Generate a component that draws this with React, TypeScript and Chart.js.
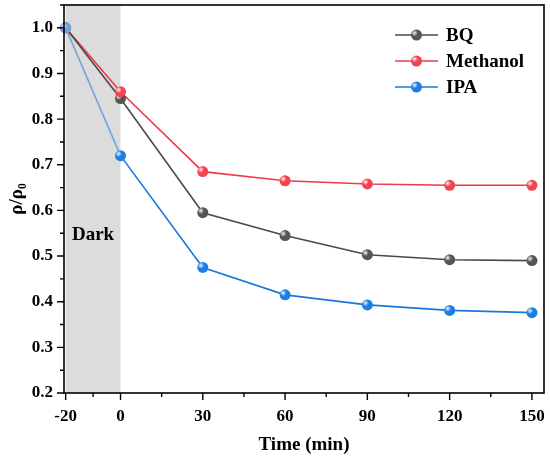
import { useEffect, useRef } from 'react';
import { Chart, registerables, type Plugin } from 'chart.js';

Chart.register(...registerables);

// data
const times = [-20, 0, 30, 60, 90, 120, 150];
const bq = [1.0, 0.845, 0.595, 0.545, 0.503, 0.492, 0.49];
const methanol = [1.0, 0.86, 0.685, 0.665, 0.658, 0.655, 0.655];
const ipa = [1.0, 0.72, 0.475, 0.415, 0.393, 0.381, 0.376];
const seriesNames = ['BQ', 'Methanol', 'IPA'];

const xMajorTicks = [-20, 0, 30, 60, 90, 120, 150];
const xMinorTicks = [-10, 15, 45, 75, 105, 135];
const yMajorTicks = [0.2, 0.3, 0.4, 0.5, 0.6, 0.7, 0.8, 0.9, 1.0];
const yMinorTicks = [0.25, 0.35, 0.45, 0.55, 0.65, 0.75, 0.85, 0.95, 1.05];
const darkRange = [-20, 0];
const darkLabel = 'Dark';

const FONT = '"Liberation Serif", "Times New Roman", serif';
const colors = ['#4a4a4a', '#ef3a47', '#1a78dc'];
const pointColors = ['#555555', '#f24450', '#1c7ee2'];

const toPoints = (vals: number[]) => times.map((t, i) => ({ x: t, y: vals[i] }));

const App = () => {
  const canvasRef = useRef<HTMLCanvasElement | null>(null);
  const chartRef = useRef<Chart<'line'> | null>(null);

  useEffect(() => {
    document.body.style.margin = '0';
    if (!canvasRef.current) return;

    // gray "Dark" band behind the lines
    const darkBand: Plugin<'line'> = {
      id: 'darkBand',
      beforeDatasetsDraw: (chart) => {
        const { ctx, chartArea, scales } = chart;
        const x0 = scales.x.getPixelForValue(darkRange[0]);
        const x1 = scales.x.getPixelForValue(darkRange[1]);
        ctx.save();
        ctx.fillStyle = '#dcdcdc';
        ctx.fillRect(x0, chartArea.top, x1 - x0, chartArea.bottom - chartArea.top);
        ctx.fillStyle = '#000';
        ctx.font = `bold 19px ${FONT}`;
        ctx.textAlign = 'center';
        ctx.textBaseline = 'middle';
        ctx.fillText(darkLabel, (x0 + x1) / 2, scales.y.getPixelForValue(0.546));
        ctx.restore();
      },
    };

    const sphere = (ctx: CanvasRenderingContext2D, x: number, y: number, r: number, c: string) => {
      ctx.beginPath();
      ctx.arc(x, y, r, 0, Math.PI * 2);
      ctx.fillStyle = c;
      ctx.fill();
      const g = ctx.createRadialGradient(x - r * 0.35, y - r * 0.35, 0, x - r * 0.35, y - r * 0.35, r * 0.6);
      g.addColorStop(0, 'rgba(255,255,255,0.95)');
      g.addColorStop(1, 'rgba(255,255,255,0)');
      ctx.beginPath();
      ctx.arc(x, y, r, 0, Math.PI * 2);
      ctx.fillStyle = g;
      ctx.fill();
    };

    // frame, tick marks, sphere highlights and legend
    const decorations: Plugin<'line'> = {
      id: 'decorations',
      afterDatasetsDraw: (chart) => {
        const { ctx } = chart;
        chart.data.datasets.forEach((ds, di) => {
          const meta = chart.getDatasetMeta(di);
          meta.data.forEach((pt, i) => {
            const c = Array.isArray(ds.pointBackgroundColor) ? ds.pointBackgroundColor[i] : pointColors[di];
            sphere(ctx, pt.x, pt.y, 5.5, c as string);
          });
        });
      },
      afterDraw: (chart) => {
        const { ctx, chartArea, scales } = chart;
        const { left, right, top, bottom } = chartArea;
        ctx.save();
        ctx.strokeStyle = '#000';
        ctx.lineWidth = 1.6;
        ctx.strokeRect(left, top, right - left, bottom - top);
        ctx.lineWidth = 1.4;
        ctx.beginPath();
        xMajorTicks.forEach((v) => {
          const x = scales.x.getPixelForValue(v);
          ctx.moveTo(x, bottom);
          ctx.lineTo(x, bottom + 7);
        });
        xMinorTicks.forEach((v) => {
          const x = scales.x.getPixelForValue(v);
          ctx.moveTo(x, bottom);
          ctx.lineTo(x, bottom + 4);
        });
        yMajorTicks.forEach((v) => {
          const y = scales.y.getPixelForValue(v);
          ctx.moveTo(left, y);
          ctx.lineTo(left - 7, y);
        });
        yMinorTicks.forEach((v) => {
          const y = scales.y.getPixelForValue(v);
          ctx.moveTo(left, y);
          ctx.lineTo(left - 4, y);
        });
        ctx.stroke();

        // legend
        const lx0 = right - 149;
        const lx1 = right - 106;
        ctx.font = `bold 19px ${FONT}`;
        ctx.textBaseline = 'middle';
        ctx.textAlign = 'left';
        seriesNames.forEach((name, i) => {
          const y = top + 30 + i * 26;
          ctx.strokeStyle = colors[i];
          ctx.lineWidth = 1.5;
          ctx.beginPath();
          ctx.moveTo(lx0, y);
          ctx.lineTo(lx1, y);
          ctx.stroke();
          sphere(ctx, (lx0 + lx1) / 2, y, 5.5, pointColors[i]);
          ctx.fillStyle = '#000';
          ctx.fillText(name, lx1 + 8, y + 1);
        });
        ctx.restore();
      },
    };

    const mkSet = (label: string, vals: number[], i: number) => ({
      label,
      data: toPoints(vals),
      borderColor: colors[i],
      backgroundColor: pointColors[i],
      borderWidth: 1.6,
      pointRadius: 0,
      pointHoverRadius: 0,
      pointBackgroundColor: times.map(() => pointColors[i]) as string[],
      tension: 0,
    });

    const ipaSet = mkSet(seriesNames[2], ipa, 2);
    ipaSet.pointBackgroundColor[0] = '#6fa6de';

    chartRef.current?.destroy();
    chartRef.current = new Chart(canvasRef.current, {
      type: 'line',
      data: {
        datasets: [
          mkSet(seriesNames[0], bq, 0),
          mkSet(seriesNames[1], methanol, 1),
          {
            ...ipaSet,
            segment: {
              borderColor: (ctx: any) => (ctx.p0.parsed.x < 0 ? '#6fa6de' : colors[2]),
            },
          },
        ],
      },
      options: {
        responsive: false,
        animation: false,
        layout: { padding: { top: 5, right: 6, left: 0, bottom: 0 } },
        plugins: {
          legend: { display: false },
          tooltip: { enabled: false },
        },
        scales: {
          x: {
            type: 'linear',
            min: -20.6,
            max: 154.4,
            afterBuildTicks: (scale) => {
              scale.ticks = xMajorTicks.map((v) => ({ value: v }));
            },
            afterFit: (scale: any) => {
              scale.height = 66;
              scale.paddingLeft = 0;
              scale.paddingRight = 0;
            },
            ticks: {
              color: '#000',
              padding: 13,
              maxRotation: 0,
              autoSkip: false,
              font: { family: FONT, size: 17, weight: 'bold' },
              callback: (v) => String(v),
            },
            grid: { display: false, drawTicks: false },
            border: { display: false },
            title: {
              display: true,
              text: 'Time (min)',
              color: '#000',
              padding: { top: 0, bottom: 3 },
              font: { family: FONT, size: 19, weight: 'bold' },
            },
          },
          y: {
            type: 'linear',
            min: 0.2,
            max: 1.05,
            afterBuildTicks: (scale) => {
              scale.ticks = yMajorTicks.map((v) => ({ value: v }));
            },
            afterFit: (scale: any) => {
              scale.width = 64;
              scale.paddingTop = 0;
              scale.paddingBottom = 0;
            },
            ticks: {
              color: '#000',
              padding: 11,
              autoSkip: false,
              font: { family: FONT, size: 17, weight: 'bold' },
              callback: (v) => Number(v).toFixed(1),
            },
            grid: { display: false, drawTicks: false },
            border: { display: false },
            title: {
              display: true,
              text: 'ρ/ρ₀',
              color: '#000',
              padding: { top: 6, bottom: 0 },
              font: { family: FONT, size: 19, weight: 'bold' },
            },
          },
        },
      },
      plugins: [darkBand, decorations],
    });

    return () => {
      chartRef.current?.destroy();
      chartRef.current = null;
    };
  }, []);

  return (
    <div style={{ width: 550, height: 459 }}>
      <canvas ref={canvasRef} width={550} height={459} />
    </div>
  );
};

export default App;
